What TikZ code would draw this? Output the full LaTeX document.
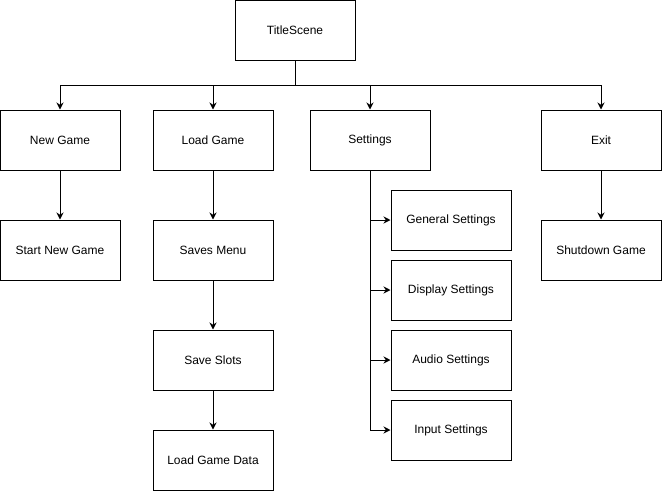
\documentclass[tikz,border=0pt]{standalone}
\usepackage{fontspec}
\setmainfont{Liberation Sans}
\usetikzlibrary{arrows.meta}

\begin{document}
\begin{tikzpicture}[x=1pt,y=-1pt,line width=1pt,
    >={Stealth[length=7pt,width=7pt]},
    box/.style={draw,minimum width=120pt,minimum height=60pt,
                inner sep=0pt,font=\fontsize{12}{14}\selectfont}]
\useasboundingbox (0,0) rectangle (662,491);

\node [box] (title)     at (295, 30) {TitleScene};
\node [box] (newgame)   at ( 60,140) {New Game};
\node [box] (loadgame)  at (213,140) {Load Game};
\node [box] (settings)  at (370,140) {Settings};
\node [box] (exit)      at (601,140) {Exit};

\node [box] (startnew)  at ( 60,250) {Start New Game};
\node [box] (savesmenu) at (213,250) {Saves Menu};
\node [box] (saveslots) at (213,360) {Save Slots};
\node [box] (loaddata)  at (213,460) {Load Game Data};
\node [box] (shutdown)  at (601,250) {Shutdown Game};

\node [box] (general)   at (451,220) {General Settings};
\node [box] (display)   at (451,290) {Display Settings};
\node [box] (audio)     at (451,360) {Audio Settings};
\node [box] (input)     at (451,430) {Input Settings};

\draw [->] (title.south) -- ++(0,25) -| (newgame.north);
\draw [->] (title.south) -- ++(0,25) -| (loadgame.north);
\draw [->] (title.south) -- ++(0,25) -| (settings.north);
\draw [->] (title.south) -- ++(0,25) -| (exit.north);

\draw [->] (newgame)   -- (startnew);
\draw [->] (loadgame)  -- (savesmenu);
\draw [->] (savesmenu) -- (saveslots);
\draw [->] (saveslots) -- (loaddata);
\draw [->] (exit)      -- (shutdown);

\draw [->] (settings.south) |- (general.west);
\draw [->] (settings.south) |- (display.west);
\draw [->] (settings.south) |- (audio.west);
\draw [->] (settings.south) |- (input.west);
\end{tikzpicture}
\end{document}
